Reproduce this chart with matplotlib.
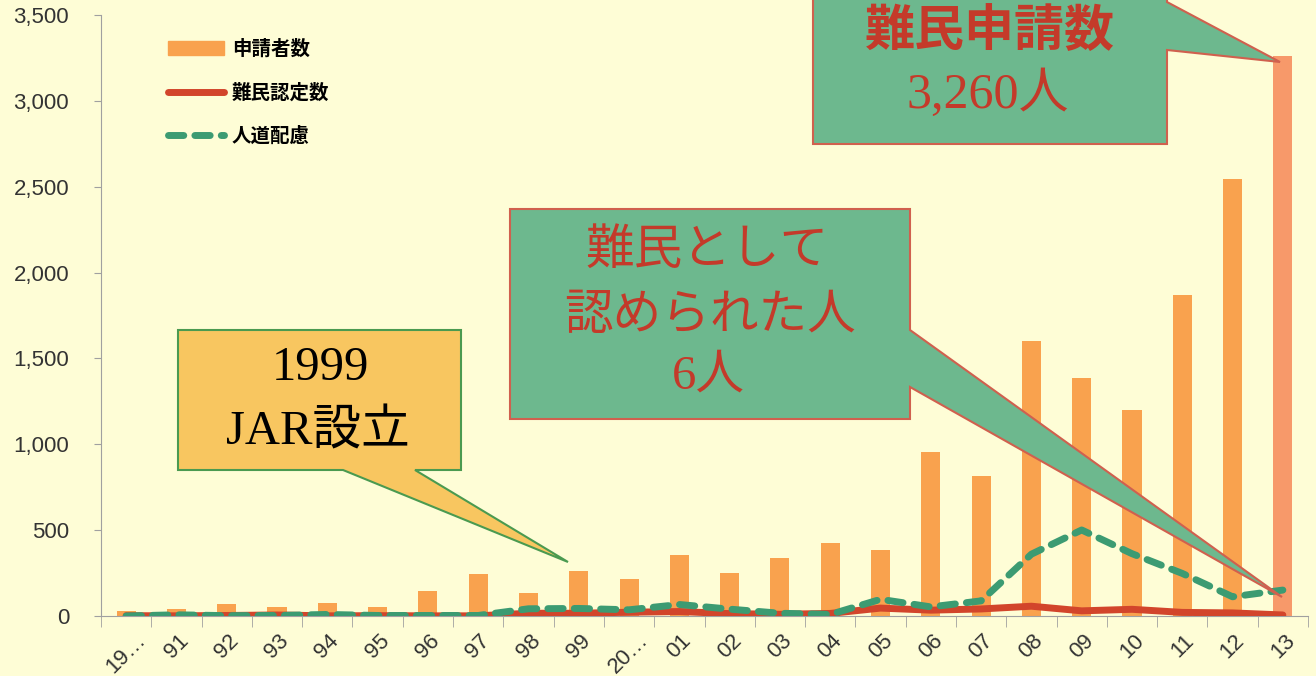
import matplotlib.pyplot as plt
import matplotlib.transforms as mtransforms
from matplotlib.patches import Polygon, Patch
from matplotlib.lines import Line2D
import numpy as np

plt.rcParams['font.family'] = ['Liberation Sans', 'Noto Sans CJK JP']

years = ['19…', '91', '92', '93', '94', '95', '96', '97', '98', '99', '20…',
         '01', '02', '03', '04', '05', '06', '07', '08', '09', '10', '11', '12', '13']
applicants = [32, 42, 68, 50, 73, 52, 147, 242, 133, 260, 216, 353, 250, 336,
              426, 384, 954, 816, 1599, 1388, 1202, 1867, 2545, 3260]
recognized = [2, 1, 3, 6, 1, 2, 1, 1, 16, 16, 22, 26, 14, 10, 15, 46, 34, 41,
              57, 30, 39, 21, 18, 6]
humanitarian = [0, 7, 2, 3, 9, 3, 3, 3, 42, 44, 36, 67, 40, 16, 9, 97, 53, 88,
                360, 501, 363, 248, 112, 151]

bg = '#FEFDD6'
W, H = 1316, 676

fig = plt.figure(figsize=(W / 100, H / 100), dpi=100, facecolor=bg)
ax = fig.add_axes([101 / W, 1 - 616 / H, (1308 - 101) / W, (616 - 15) / H])
ax.set_facecolor(bg)

x = np.arange(len(years))
bar_cols = ['#F9A24E'] * (len(years) - 1) + ['#F7996A']
ax.bar(x, applicants, width=0.38, color=bar_cols, zorder=2)
ax.plot(x, recognized, color='#D2452B', lw=5, solid_capstyle='round', zorder=3)
ax.plot(x, humanitarian, color='#3C9B72', lw=5, ls=(0, (2.2, 1.6)),
        dash_capstyle='round', zorder=4)

ax.set_xlim(-0.5, len(years) - 0.5)
ax.set_ylim(0, 3500)
ax.set_yticks(range(0, 3501, 500))
ax.set_yticklabels([f'{v:,}' for v in range(0, 3501, 500)])
ax.set_xticks(x)
ax.set_xticklabels(years, rotation=45, ha='center', va='top')
ax.set_xticks(np.arange(-0.5, len(years), 1), minor=True)
ax.tick_params(axis='x', which='major', length=0, pad=10, labelsize=16,
               labelcolor='#333333')
ax.tick_params(axis='x', which='minor', length=8, color='#A0A0A0', direction='out')
ax.tick_params(axis='y', length=5, color='#A0A0A0', pad=18, labelsize=16,
               labelcolor='#333333')
for s in ['top', 'right']:
    ax.spines[s].set_visible(False)
for s in ['left', 'bottom']:
    ax.spines[s].set_color('#A0A0A0')

handles = [Patch(color='#F9A24E'),
           Line2D([], [], color='#D2452B', lw=5, solid_capstyle='round'),
           Line2D([], [], color='#3C9B72', lw=5, ls=(0, (2.2, 1.6)),
                  dash_capstyle='round')]
leg = ax.legend(handles, ['申請者数', '難民認定数', '人道配慮'],
                loc='upper left', bbox_to_anchor=(158 / W, 1 - 30 / H),
                bbox_transform=fig.transFigure, frameon=False, borderpad=0,
                handlelength=2.9, handletextpad=0.4, labelspacing=1.25,
                prop={'family': 'Noto Sans CJK JP', 'weight': 'bold', 'size': 14})

# pixel coordinates (from the top left) -> figure
px = mtransforms.Affine2D().scale(1 / W, -1 / H).translate(0, 1) + fig.transFigure


def callout(pts, face, edge):
    fig.add_artist(Polygon(pts, closed=True, facecolor=face, edgecolor=edge,
                           lw=1.5, transform=px, zorder=5))


callout([(813, -5), (1167, -5), (1167, 2), (1280, 62), (1167, 50), (1167, 144),
         (813, 144)], '#6DB88E', '#D0604E')
callout([(510, 209), (910, 209), (910, 330), (1282, 597), (910, 387), (910, 419),
         (510, 419)], '#6DB88E', '#D0604E')
callout([(178, 330), (461, 330), (461, 470), (415, 470), (568, 562), (343, 470),
         (178, 470)], '#F8C660', '#4A9A50')

red = '#C43A2A'
serif = ['Liberation Serif', 'Noto Sans CJK JP']
fig.text(990 / W, 1 - 32 / H, '難民申請数', color=red, fontsize=36, weight='bold',
         family='Noto Sans CJK JP', ha='center', va='center', zorder=6)
fig.text(988 / W, 1 - 95 / H, '3,260人', color=red, fontsize=36, family=serif,
         ha='center', va='center', zorder=6)
fig.text(707 / W, 1 - 250 / H, '難民として', color=red, fontsize=35,
         family='Noto Sans CJK JP', ha='center', va='center', zorder=6)
fig.text(710 / W, 1 - 315 / H, '認められた人', color=red, fontsize=35,
         family='Noto Sans CJK JP', ha='center', va='center', zorder=6)
fig.text(708 / W, 1 - 377 / H, '6人', color=red, fontsize=35, family=serif,
         ha='center', va='center', zorder=6)
fig.text(320 / W, 1 - 368 / H, '1999', color='black', fontsize=35, family=serif,
         ha='center', va='center', zorder=6)
fig.text(318 / W, 1 - 432 / H, 'JAR設立', color='black', fontsize=35, family=serif,
         ha='center', va='center', zorder=6)

fig.savefig('out.png', dpi=100, facecolor=bg)
